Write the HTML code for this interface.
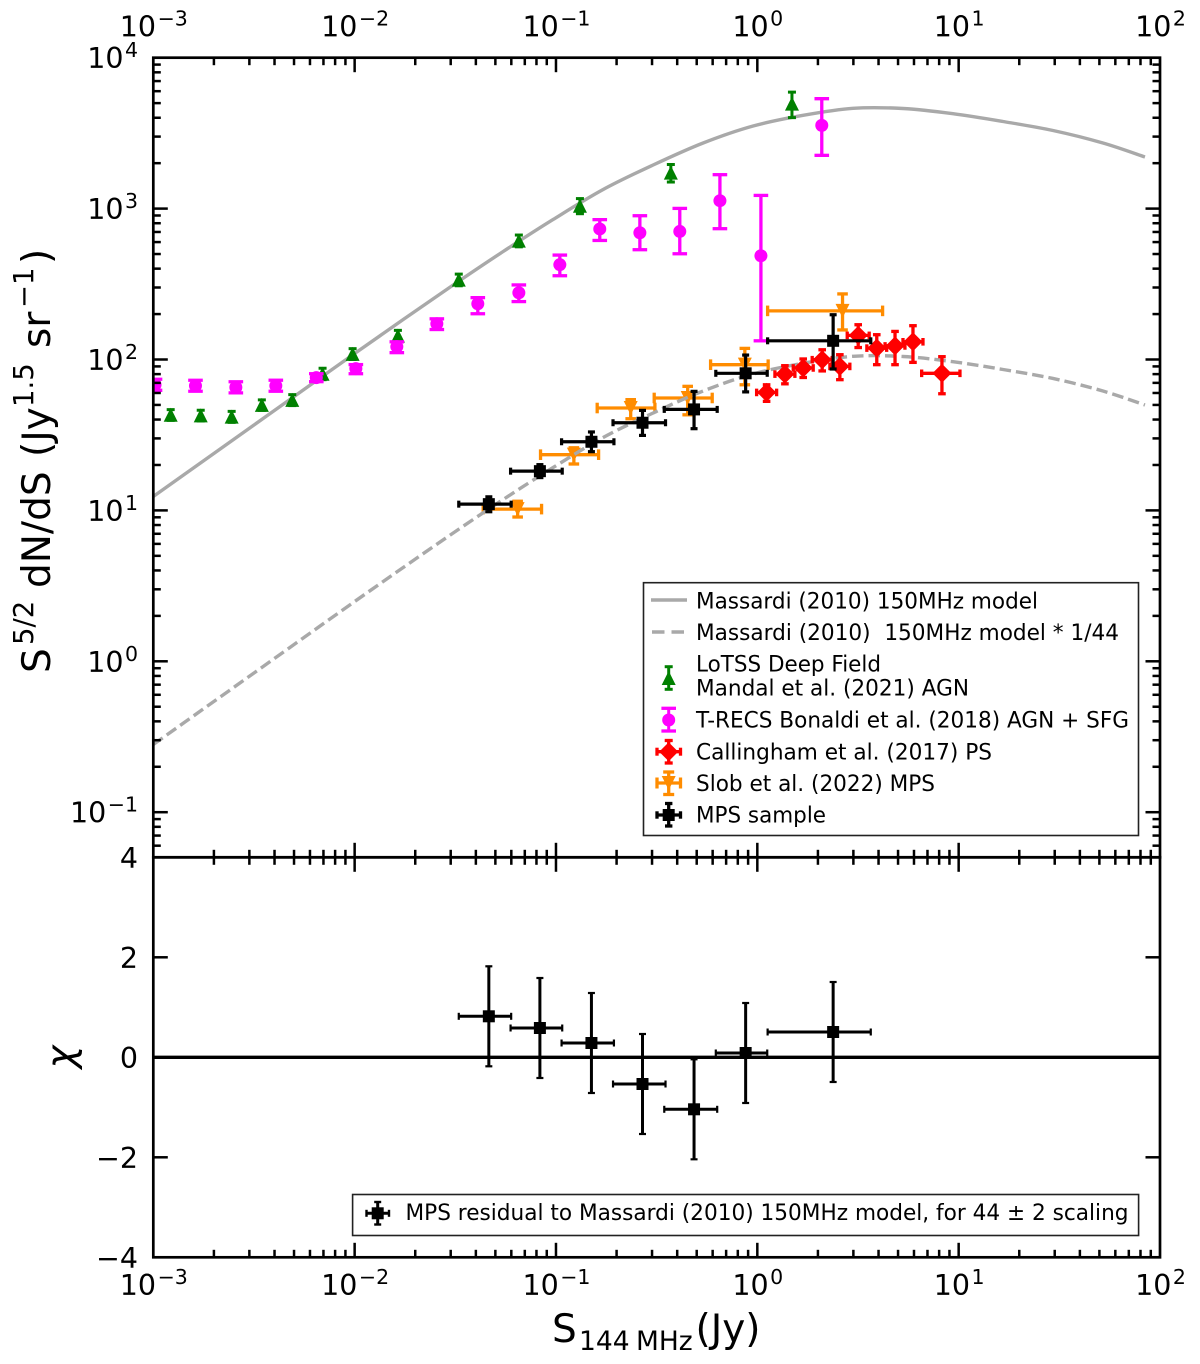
<!DOCTYPE html>
<html lang="en">
<head>
<meta charset="utf-8">
<title>Source counts chart</title>
<style>
html,body{margin:0;padding:0;background:#fff;}
svg{display:block;font-family:"DejaVu Sans","Liberation Sans",sans-serif;fill:#000;}
.leg{font-size:22px;white-space:pre;}
</style>
</head>
<body>
<svg id="chart" xmlns="http://www.w3.org/2000/svg" width="1200" height="1364" viewBox="0 0 1200 1364">
  <defs>
    <clipPath id="topClip"><rect x="153.3" y="57.7" width="1006.7" height="800"/></clipPath>
    <clipPath id="botClip"><rect x="153.3" y="857.3" width="1006.7" height="400"/></clipPath>
  </defs>
  <rect width="1200" height="1364" fill="#fff"/>
  <g id="topData" clip-path="url(#topClip)">
    <path id="modelLine" fill="none" stroke="#a9a9a9" stroke-width="3.4"/>
    <g id="slob"></g>
    <path id="modelScaled" fill="none" stroke="#a9a9a9" stroke-width="3.4" stroke-dasharray="11.5 5"/>
    <g id="lotss"></g>
    <g id="trecs"></g>
    <g id="calling"></g>
    <g id="mps"></g>
  </g>
  <g id="botData" clip-path="url(#botClip)">
    <line id="zeroLine" stroke="#000" stroke-width="3.3"/>
    <g id="resid"></g>
  </g>
  <g id="ticks" stroke="#000"></g>
  <g id="tickLabels" font-size="28.5"></g>
  <rect x="153.3" y="57.7" width="1006.7" height="799.6" fill="none" stroke="#000" stroke-width="2.7"/>
  <rect x="153.3" y="857.3" width="1006.7" height="400" fill="none" stroke="#000" stroke-width="2.7"/>

  <text transform="rotate(-90 50 673)" font-size="39">
    <tspan x="50" y="673">S</tspan>
    <tspan x="78" y="656" font-size="27.5">5/2</tspan>
    <tspan x="135" y="673">dN/dS</tspan>
    <tspan x="266" y="673">(Jy</tspan>
    <tspan x="316" y="656" font-size="27.5">1.5</tspan>
    <tspan x="375" y="673">sr</tspan>
    <tspan x="415" y="656" font-size="27.5">−1</tspan>
    <tspan x="459" y="673">)</tspan>
  </text>
  <text transform="rotate(-90 74 1057)" x="74" y="1057" font-size="39" font-style="italic" text-anchor="middle">χ</text>
  <text font-size="39">
    <tspan x="552" y="1342">S</tspan>
    <tspan x="579" y="1350" font-size="26.5">144</tspan>
    <tspan x="636" y="1350" font-size="26.5">MHz</tspan>
    <tspan x="695.5" y="1342">(Jy)</tspan>
  </text>

  <g>
    <rect x="643.5" y="582.7" width="495" height="252.8" fill="#fff" stroke="#222" stroke-width="1.6"/>
    <line x1="651" x2="687" y1="600" y2="600" stroke="#a9a9a9" stroke-width="3.4"/>
    <text class="leg" x="696" y="608.3" textLength="342" lengthAdjust="spacingAndGlyphs">Massardi (2010) 150MHz model</text>
    <line x1="652" x2="686" y1="632" y2="632" stroke="#a9a9a9" stroke-width="3.4" stroke-dasharray="12.5 7"/>
    <text class="leg" x="696" y="640" textLength="423" lengthAdjust="spacingAndGlyphs">Massardi (2010)  150MHz model * 1/44</text>

    <g stroke="#008000" fill="#008000">
      <line x1="668.7" x2="668.7" y1="666.7" y2="689.3" stroke-width="3"/>
      <line x1="664.7" x2="672.7" y1="666.7" y2="666.7" stroke-width="3"/>
      <line x1="664.7" x2="672.7" y1="689.3" y2="689.3" stroke-width="3"/>
      <path d="M668.7 671L675.7 685H661.7Z" stroke="none"/>
    </g>
    <text class="leg" x="696" y="671.7" textLength="185" lengthAdjust="spacingAndGlyphs">LoTSS Deep Field</text>
    <text class="leg" x="696" y="695.7" textLength="273" lengthAdjust="spacingAndGlyphs">Mandal et al. (2021) AGN</text>

    <g stroke="#ff00ff" fill="#ff00ff">
      <line x1="668.7" x2="668.7" y1="708.3" y2="731" stroke-width="3"/>
      <line x1="661.4" x2="676" y1="708.3" y2="708.3" stroke-width="3.3"/>
      <line x1="661.4" x2="676" y1="731" y2="731" stroke-width="3.3"/>
      <circle cx="668.7" cy="720" r="6.5" stroke="none"/>
    </g>
    <text class="leg" x="696" y="727.7" textLength="433" lengthAdjust="spacingAndGlyphs">T-RECS Bonaldi et al. (2018) AGN + SFG</text>

    <g stroke="#ff0000" fill="#ff0000">
      <line x1="668.7" x2="668.7" y1="740.5" y2="763" stroke-width="3.3"/>
      <line x1="657" x2="680.5" y1="751.7" y2="751.7" stroke-width="3.3"/>
      <line x1="664.7" x2="672.7" y1="740.5" y2="740.5" stroke-width="3.3"/>
      <line x1="664.7" x2="672.7" y1="763" y2="763" stroke-width="3.3"/>
      <line x1="657" x2="657" y1="747.7" y2="755.7" stroke-width="3.3"/>
      <line x1="680.5" x2="680.5" y1="747.7" y2="755.7" stroke-width="3.3"/>
      <path d="M668.7 742.2L678.2 751.7L668.7 761.2L659.2 751.7Z" stroke="none"/>
    </g>
    <text class="leg" x="696" y="759.3" textLength="296" lengthAdjust="spacingAndGlyphs">Callingham et al. (2017) PS</text>

    <g stroke="#ff8c00" fill="#ff8c00">
      <line x1="668.7" x2="668.7" y1="772" y2="794.5" stroke-width="3.3"/>
      <line x1="657" x2="680.5" y1="783" y2="783" stroke-width="3.3"/>
      <line x1="663.2" x2="674.2" y1="772" y2="772" stroke-width="3.3"/>
      <line x1="663.2" x2="674.2" y1="794.5" y2="794.5" stroke-width="3.3"/>
      <line x1="657" x2="657" y1="777.5" y2="788.5" stroke-width="3.3"/>
      <line x1="680.5" x2="680.5" y1="777.5" y2="788.5" stroke-width="3.3"/>
      <path d="M661.7 776H675.7L668.7 790Z" stroke="none"/>
    </g>
    <text class="leg" x="696" y="791" textLength="239" lengthAdjust="spacingAndGlyphs">Slob et al. (2022) MPS</text>

    <g stroke="#000" fill="#000">
      <line x1="668.7" x2="668.7" y1="803.5" y2="826" stroke-width="3.3"/>
      <line x1="657" x2="680.5" y1="815" y2="815" stroke-width="3.3"/>
      <line x1="665" x2="672.4" y1="803.5" y2="803.5" stroke-width="3.3"/>
      <line x1="665" x2="672.4" y1="826" y2="826" stroke-width="3.3"/>
      <line x1="657" x2="657" y1="811.3" y2="818.7" stroke-width="3.3"/>
      <line x1="680.5" x2="680.5" y1="811.3" y2="818.7" stroke-width="3.3"/>
      <rect x="662.7" y="809" width="12" height="12" stroke="none"/>
    </g>
    <text class="leg" x="696" y="822.7" textLength="130" lengthAdjust="spacingAndGlyphs">MPS sample</text>
  </g>

  <g>
    <rect x="352.6" y="1194.5" width="786" height="41" fill="#fff" stroke="#222" stroke-width="1.6"/>
    <g stroke="#000" fill="#000">
      <line x1="377.7" x2="377.7" y1="1202" y2="1224.5" stroke-width="3"/>
      <line x1="366.5" x2="389" y1="1213.3" y2="1213.3" stroke-width="3"/>
      <line x1="374.2" x2="381.2" y1="1202" y2="1202" stroke-width="2.4"/>
      <line x1="374.2" x2="381.2" y1="1224.5" y2="1224.5" stroke-width="2.4"/>
      <line x1="366.5" x2="366.5" y1="1209.8" y2="1216.8" stroke-width="2.4"/>
      <line x1="389" x2="389" y1="1209.8" y2="1216.8" stroke-width="2.4"/>
      <rect x="371.7" y="1207.3" width="12" height="12" stroke="none"/>
    </g>
    <text class="leg" x="405.5" y="1220" textLength="723" lengthAdjust="spacingAndGlyphs">MPS residual to Massardi (2010) 150MHz model, for 44 ± 2 scaling</text>
  </g>
</svg>
<script>
// ---- chart data ----
const xDecades = [-3, -2, -1, 0, 1, 2];
const yDecades = [4, 3, 2, 1, 0, -1];
const chiTicks = [4, 2, 0, -2, -4];
const minorMultiples = [2, 3, 4, 5, 6, 7, 8, 9];
const modelDivisor = 44;

const modelS = [0.001, 0.001771, 0.003137, 0.005556, 0.00984, 0.01743, 0.03087, 0.05467, 0.09683, 0.1715, 0.3037, 0.538, 0.9528, 1.6876, 2.989, 5.294, 9.376, 16.61, 29.41, 52.09, 84.2];
const modelY = [12.36, 21.25, 36.52, 62.8, 107.9, 184.1, 311.7, 519.6, 847, 1338, 1945, 2721, 3527, 4151, 4621, 4607, 4255, 3777, 3294, 2721, 2198];

const lotssS = [0.00122, 0.00172, 0.00245, 0.00346, 0.0049, 0.00693, 0.00977, 0.0164, 0.0329, 0.0654, 0.1315, 0.372, 1.486];
const lotssY = [43, 42.6, 41.8, 50, 54, 80.5, 109, 144, 338, 613, 1045, 1730, 4960];
const lotssErr = [3.5, 3.5, 3.5, 4, 4.5, 7, 9, 12, 30, 55, 120, 230, 950];

const trecsS = [0.00102, 0.00162, 0.00257, 0.00406, 0.00645, 0.01014, 0.0162, 0.0256, 0.0409, 0.0654, 0.1045, 0.165, 0.261, 0.412, 0.652, 1.042, 2.09];
const trecsY = [68, 67, 65.4, 67, 75.8, 87, 121.6, 172.7, 234, 277, 425, 733, 692, 706, 1128, 487, 3560];
const trecsLow = [62.5, 61.6, 60.1, 61.6, 71.3, 80.5, 111, 158, 201, 242, 359, 615, 534, 502, 736, 133, 2254];
const trecsHigh = [74, 72.9, 71.2, 72.9, 80.5, 92.5, 131, 186, 257, 312, 492, 845, 897, 1003, 1678, 1223, 5350];

const callS = [1.112, 1.371, 1.69, 2.1, 2.57, 3.17, 3.92, 4.83, 5.93, 8.26];
const callSLow = [0.992, 1.223, 1.508, 1.873, 2.293, 2.796, 3.5, 4.31, 5.29, 6.55];
const callSHigh = [1.247, 1.537, 1.895, 2.354, 2.881, 3.595, 4.39, 5.41, 6.65, 10.15];
const callY = [60.5, 80, 87.9, 99.7, 90, 144.5, 119, 123, 131, 81];
const callLow = [52.8, 69, 76, 84, 73.5, 120, 92.4, 92.4, 95.7, 59.3];
const callHigh = [68, 91, 100.8, 116, 107.6, 170, 146, 153.5, 167.5, 104.4];

const slobS = [0.0645, 0.1227, 0.235, 0.451, 0.867, 2.65];
const slobSLow = [0.0435, 0.0838, 0.1602, 0.3075, 0.586, 1.125];
const slobSHigh = [0.0848, 0.1628, 0.31, 0.597, 1.132, 4.19];
const slobY = [10.2, 23.4, 47.7, 55.6, 92.4, 210];
const slobLow = [9.04, 20.3, 40.5, 43, 68, 157];
const slobHigh = [11.5, 26, 54.2, 66.4, 118.5, 272];

const mpsS = [0.0464, 0.0832, 0.15, 0.269, 0.485, 0.875, 2.38];
const mpsSLow = [0.0329, 0.0595, 0.1066, 0.192, 0.345, 0.622, 1.125];
const mpsSHigh = [0.0599, 0.1074, 0.194, 0.35, 0.632, 1.12, 3.66];
const mpsY = [11, 18.2, 28.5, 38.1, 46.7, 81, 133];
const mpsLow = [9.8, 16.5, 24.5, 31.4, 34.8, 61, 86.5];
const mpsHigh = [12.3, 20.1, 33.1, 46, 61.5, 107, 198];

const residChi = [0.82, 0.586, 0.286, -0.534, -1.04, 0.086, 0.506];
const residErr = [1, 1, 1, 1, 1, 1, 1];

// ---- axis functions ----
const X0 = 153.3, XDEC = 201.34, YT0 = 57.7, YDEC = 150.9, YZ = 1057.3, YCHI = 50;
const xAt = v => X0 + (Math.log10(v) + 3) * XDEC;
const yAt = v => YT0 + (4 - Math.log10(v)) * YDEC;
const chiAt = c => YZ - YCHI * c;

const NS = 'http://www.w3.org/2000/svg';
function add(parent, tag, attrs) {
  const el = document.createElementNS(NS, tag);
  for (const k in attrs) el.setAttribute(k, attrs[k]);
  parent.appendChild(el);
  return el;
}
function smooth(pts) {
  let d = 'M' + pts[0][0].toFixed(2) + ' ' + pts[0][1].toFixed(2);
  for (let i = 0; i < pts.length - 1; i++) {
    const p0 = pts[Math.max(i - 1, 0)], p1 = pts[i], p2 = pts[i + 1], p3 = pts[Math.min(i + 2, pts.length - 1)];
    const c1x = p1[0] + (p2[0] - p0[0]) / 6, c1y = p1[1] + (p2[1] - p0[1]) / 6;
    const c2x = p2[0] - (p3[0] - p1[0]) / 6, c2y = p2[1] - (p3[1] - p1[1]) / 6;
    d += 'C' + [c1x, c1y, c2x, c2y, p2[0], p2[1]].map(n => n.toFixed(2)).join(' ');
  }
  return d;
}

// ---- model curves ----
const modelPts = modelS.map((s, i) => [xAt(s), yAt(modelY[i])]);
const scaledPts = modelS.map((s, i) => [xAt(s), yAt(modelY[i] / modelDivisor)]);
document.getElementById('modelLine').setAttribute('d', smooth(modelPts));
document.getElementById('modelScaled').setAttribute('d', smooth(scaledPts));

// ---- marker + error bar drawing ----
function drawMarker(g, shape, cx, cy, color, size) {
  let m;
  if (shape === 'circle') {
    m = add(g, 'circle', {cx: cx, cy: cy, r: size / 2, fill: color});
  } else if (shape === 'square') {
    m = add(g, 'rect', {x: cx - size / 2, y: cy - size / 2, width: size, height: size, fill: color});
  } else {
    const h = size / 2;
    let d = '';
    if (shape === 'up') d = `M${cx} ${cy - h}L${cx + h} ${cy + h}H${cx - h}Z`;
    if (shape === 'down') d = `M${cx - h} ${cy - h}H${cx + h}L${cx} ${cy + h}Z`;
    if (shape === 'diamond') d = `M${cx} ${cy - h}L${cx + h} ${cy}L${cx} ${cy + h}L${cx - h} ${cy}Z`;
    m = add(g, 'path', {d: d, fill: color});
  }
  
  
}
function drawLine(g, x1, y1, x2, y2, color, w) {
  const l = add(g, 'line', {x1: x1, y1: y1, x2: x2, y2: y2, stroke: color, 'stroke-width': w});
  
  
}
function drawPoint(g, o) {
  const c = o.color;
  if (o.xl !== undefined) {
    drawLine(g, o.xl, o.cy, o.xh, o.cy, c, o.bw);
    drawLine(g, o.xl, o.cy - o.cap, o.xl, o.cy + o.cap, c, o.cw);
    drawLine(g, o.xh, o.cy - o.cap, o.xh, o.cy + o.cap, c, o.cw);
  }
  drawLine(g, o.cx, o.yl, o.cx, o.yh, c, o.bw);
  drawLine(g, o.cx - o.cap, o.yl, o.cx + o.cap, o.yl, c, o.cw);
  drawLine(g, o.cx - o.cap, o.yh, o.cx + o.cap, o.yh, c, o.cw);
  drawMarker(g, o.shape, o.cx, o.cy, c, o.size);
}

const gSlob = document.getElementById('slob');
slobS.forEach((s, i) => drawPoint(gSlob, {cx: xAt(s), cy: yAt(slobY[i]), xl: xAt(slobSLow[i]), xh: xAt(slobSHigh[i]), yl: yAt(slobLow[i]), yh: yAt(slobHigh[i]), color: '#ff8c00', bw: 3.3, cw: 3.3, cap: 5.3, shape: 'down', size: 14}));

const gLotss = document.getElementById('lotss');
lotssS.forEach((s, i) => drawPoint(gLotss, {cx: xAt(s), cy: yAt(lotssY[i]), yl: yAt(lotssY[i] - lotssErr[i]), yh: yAt(lotssY[i] + lotssErr[i]), color: '#008000', bw: 3, cw: 3, cap: 4, shape: 'up', size: 14}));

const gTrecs = document.getElementById('trecs');
trecsS.forEach((s, i) => drawPoint(gTrecs, {cx: xAt(s), cy: yAt(trecsY[i]), yl: yAt(trecsLow[i]), yh: yAt(trecsHigh[i]), color: '#ff00ff', bw: 3.3, cw: 3.3, cap: 7.3, shape: 'circle', size: 13}));

const gCall = document.getElementById('calling');
callS.forEach((s, i) => drawPoint(gCall, {cx: xAt(s), cy: yAt(callY[i]), xl: xAt(callSLow[i]), xh: xAt(callSHigh[i]), yl: yAt(callLow[i]), yh: yAt(callHigh[i]), color: '#ff0000', bw: 3.3, cw: 3.3, cap: 3.8, shape: 'diamond', size: 19}));

const gMps = document.getElementById('mps');
mpsS.forEach((s, i) => drawPoint(gMps, {cx: xAt(s), cy: yAt(mpsY[i]), xl: xAt(mpsSLow[i]), xh: xAt(mpsSHigh[i]), yl: yAt(mpsLow[i]), yh: yAt(mpsHigh[i]), color: '#000', bw: 3.2, cw: 3.2, cap: 3.5, shape: 'square', size: 12}));

const gRes = document.getElementById('resid');
mpsS.forEach((s, i) => drawPoint(gRes, {cx: xAt(s), cy: chiAt(residChi[i]), xl: xAt(mpsSLow[i]), xh: xAt(mpsSHigh[i]), yl: chiAt(residChi[i] - residErr[i]), yh: chiAt(residChi[i] + residErr[i]), color: '#000', bw: 3, cw: 2.2, cap: 3.5, shape: 'square', size: 12}));

const zero = document.getElementById('zeroLine');
zero.setAttribute('x1', X0);
zero.setAttribute('x2', X0 + 5 * XDEC);
zero.setAttribute('y1', chiAt(0));
zero.setAttribute('y2', chiAt(0));

// ---- ticks ----
const gTicks = document.getElementById('ticks');
const XR = X0 + 5 * XDEC, YB = chiAt(0) + 200, YM = chiAt(0) - 200;
function tick(x1, y1, x2, y2, w, name) {
  const t = add(gTicks, 'line', {x1: x1, y1: y1, x2: x2, y2: y2, 'stroke-width': w});
  
  
}
function xTicksAt(v, len, w, name) {
  const x = xAt(v);
  tick(x, YT0, x, YT0 + len, w, name);
  tick(x, YM, x, YM - len, w, name);
  tick(x, YM, x, YM + len, w, name);
  tick(x, YB, x, YB - len, w, name);
}
xDecades.forEach((d, i) => {
  const v = Math.pow(10, d);
  if (i > 0 && i < xDecades.length - 1) xTicksAt(v, 14.5, 2.5, 'x-major-tick');
  if (i < xDecades.length - 1) minorMultiples.forEach(m => xTicksAt(v * m, 7.5, 2.5, 'x-minor-tick'));
});
function yTicksAt(v, len, w, name) {
  const y = yAt(v);
  tick(X0, y, X0 + len, y, w, name);
  tick(XR, y, XR - len, y, w, name);
}
yDecades.forEach((d, i) => {
  const v = Math.pow(10, d);
  if (i > 0) yTicksAt(v, 14.5, 2.5, 'y-major-tick');
  minorMultiples.forEach(m => {
    if (v * m < 1e4) yTicksAt(v * m, 7.5, 2.5, 'y-minor-tick');
  });
});
minorMultiples.forEach(m => {
  if (m > 5) yTicksAt(0.01 * m, 7.5, 2.5, 'y-minor-tick');
});
chiTicks.slice(1, -1).forEach(c => {
  const y = chiAt(c);
  tick(X0, y, X0 + 14.5, y, 2.5, 'chi-major-tick');
  tick(XR, y, XR - 14.5, y, 2.5, 'chi-major-tick');
});

// ---- tick labels ----
const gLab = document.getElementById('tickLabels');
const fmt = n => String(n).replace('-', '−');
function powerLabel(x, y, exp, anchor, name) {
  const t = add(gLab, 'text', {x: x, y: y, 'text-anchor': anchor});
  
  
  const a = add(t, 'tspan', {});
  a.textContent = '10';
  const b = add(t, 'tspan', {dx: 1.5, dy: -11, 'font-size': 20.5});
  b.textContent = fmt(exp);
}
xDecades.forEach(d => {
  powerLabel(xAt(Math.pow(10, d)) + 0.5, 36.7, d, 'middle', 'x-top-tick-label');
  powerLabel(xAt(Math.pow(10, d)) + 0.5, 1295, d, 'middle', 'x-bottom-tick-label');
});
yDecades.forEach(d => {
  powerLabel(138, yAt(Math.pow(10, d)) + 10.5, d, 'end', 'y-tick-label');
});
chiTicks.forEach(c => {
  const t = add(gLab, 'text', {x: 138, y: chiAt(c) + 10.5, 'text-anchor': 'end'});
  
  
  t.textContent = fmt(c);
});
</script>
</body>
</html>
